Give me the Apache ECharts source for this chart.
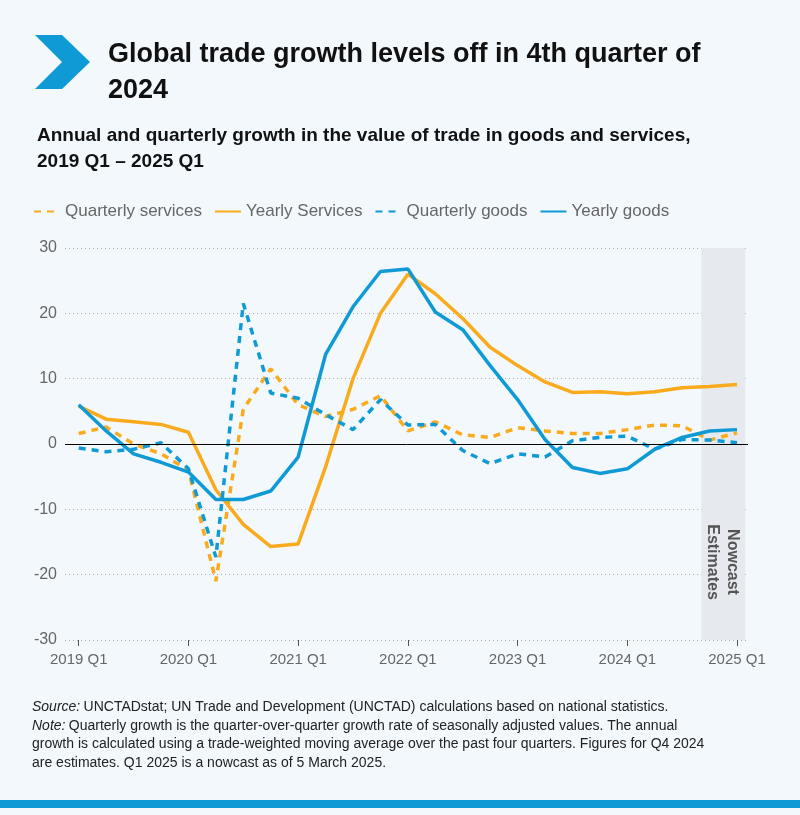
<!DOCTYPE html>
<html>
<head>
<meta charset="utf-8">
<script src="https://cdn.jsdelivr.net/npm/echarts@6/dist/echarts.min.js"></script>
<style>
  body { margin: 0; background: #f3f8fc; }
  #chart { width: 800px; height: 815px; }
</style>
</head>
<body>
<div id="chart"></div>
<script>
// quarters 2019 Q1 .. 2025 Q1
const quarters = [];
for (let y = 2019; y <= 2025; y++) for (let q = 1; q <= 4; q++) if (quarters.length < 25) quarters.push(y + ' Q' + q);

const quarterlyServices = [1.6, 2.6, 0, -1.5, -4, -21, 5.3, 11.5, 6, 4.2, 5.3, 7.4, 2.0, 3.4, 1.4, 1, 2.5, 2, 1.6, 1.6, 2.2, 2.9, 2.8, 0.6, 1.7];
const yearlyServices = [5.8, 3.8, 3.4, 3, 1.8, -7, -12.3, -15.7, -15.3, -3.5, 10, 20, 26, 23, 19.2, 14.8, 12, 9.5, 7.9, 8, 7.7, 8, 8.6, 8.8, 9.1];
const quarterlyGoods = [-0.6, -1.2, -0.8, 0.2, -3.8, -17.3, 21.5, 7.8, 7, 4.5, 2.2, 6.8, 2.9, 3, -1, -3, -1.5, -2, 0.5, 1, 1.2, -0.8, 0.7, 0.6, 0.2];
const yearlyGoods = [6, 2, -1.5, -2.8, -4.3, -8.5, -8.5, -7.2, -2, 13.7, 21, 26.4, 26.8, 20.2, 17.5, 12, 6.8, 0.7, -3.6, -4.5, -3.8, -0.8, 1, 2, 2.2];

const ORANGE = '#f9ab1d';
const BLUE = '#0f9ad5';
const pts = arr => arr.map((v, i) => [i, v]);

const chart = echarts.init(document.getElementById('chart'));
const mk = (name, data, color, dashed, extra) => Object.assign({
  name, type: 'line', data: pts(data), symbol: 'none',
  lineStyle: { color, width: 3.5, type: dashed ? [7, 6] : 'solid' },
  itemStyle: { color }
}, extra || {});

chart.setOption({
  backgroundColor: '#f3f8fc',
  textStyle: { fontFamily: 'Liberation Sans, Roboto, sans-serif' },
  title: [
    { text: 'Global trade growth levels off in 4th quarter of\n2024', left: 103, top: 32,
      textStyle: { fontSize: 27, fontWeight: 'bold', color: '#111', lineHeight: 36, fontFamily: 'Liberation Sans' } },
    { text: 'Annual and quarterly growth in the value of trade in goods and services,\n2019 Q1 – 2025 Q1', left: 32, top: 118,
      textStyle: { fontSize: 19, fontWeight: 'bold', color: '#111', lineHeight: 26, fontFamily: 'Liberation Sans' } }
  ],
  legend: {
    left: 28, top: 198, itemWidth: 26, itemGap: 12,
    itemStyle: { opacity: 0 },
    textStyle: { fontSize: 17, color: '#666', fontFamily: 'Liberation Sans Narrow, Liberation Sans' },
    data: ['Quarterly services', 'Yearly Services', 'Quarterly goods', 'Yearly goods']
  },
  grid: { left: 65, right: 52, top: 248, bottom: 175 },
  xAxis: {
    type: 'value', min: -0.5, max: 24.4,
    interval: 1,
    axisLine: { show: false, onZero: false },
    axisTick: { show: true, lineStyle: { color: '#555' }, length: 6,
      customValues: [0, 4, 8, 12, 16, 20, 24] },
    axisLabel: { color: '#666', fontSize: 15, margin: 12,
      customValues: [0, 4, 8, 12, 16, 20, 24],
      formatter: v => quarters[v] || '' },
    splitLine: { show: false }
  },
  yAxis: {
    type: 'value', min: -30, max: 30, interval: 10,
    axisLabel: { color: '#666', fontSize: 16, margin: 8 },
    axisLine: { show: false }, axisTick: { show: false },
    splitLine: { lineStyle: { color: '#aaa', type: [1, 3] } }
  },
  graphic: [
    { type: 'polygon', shape: { points: [[35, 35], [62, 35], [90, 62], [62, 89], [35, 89], [62, 62]] },
      style: { fill: BLUE } },
    { type: 'text', x: 722, y: 562, rotation: -Math.PI / 2, z: 100,
      style: { text: 'Nowcast\nEstimates', fontSize: 16, fontWeight: 'bold', fill: '#555',
        align: 'center', verticalAlign: 'middle', lineHeight: 20, fontFamily: 'Liberation Sans Narrow, Liberation Sans' } },
    { type: 'text', left: 32, top: 698, z: 100,
      style: { rich: { i: { fontStyle: 'italic', fontSize: 14, fill: '#222' }, n: { fontSize: 14, fill: '#222' } },
        text: '{i|Source:} {n|UNCTADstat; UN Trade and Development (UNCTAD) calculations based on national statistics.}\n' +
              '{i|Note:} {n|Quarterly growth is the quarter-over-quarter growth rate of seasonally adjusted values. The annual}\n' +
              '{n|growth is calculated using a trade-weighted moving average over the past four quarters. Figures for Q4 2024}\n' +
              '{n|are estimates. Q1 2025 is a nowcast as of 5 March 2025.}',
        lineHeight: 18.5 } },
    { type: 'rect', shape: { x: 0, y: 800, width: 800, height: 8 }, style: { fill: BLUE } }
  ],
  series: [
    mk('Quarterly services', quarterlyServices, ORANGE, true, {
      markArea: { silent: true, itemStyle: { color: '#e6eaee' }, data: [[{ xAxis: 22.7 }, { xAxis: 24.3 }]] },
      markLine: { silent: true, symbol: 'none', label: { show: false },
        lineStyle: { color: '#000', width: 1, type: 'solid' }, data: [{ yAxis: 0 }] }
    }),
    mk('Yearly Services', yearlyServices, ORANGE, false),
    mk('Quarterly goods', quarterlyGoods, BLUE, true),
    mk('Yearly goods', yearlyGoods, BLUE, false)
  ]
});
</script>
</body>
</html>
